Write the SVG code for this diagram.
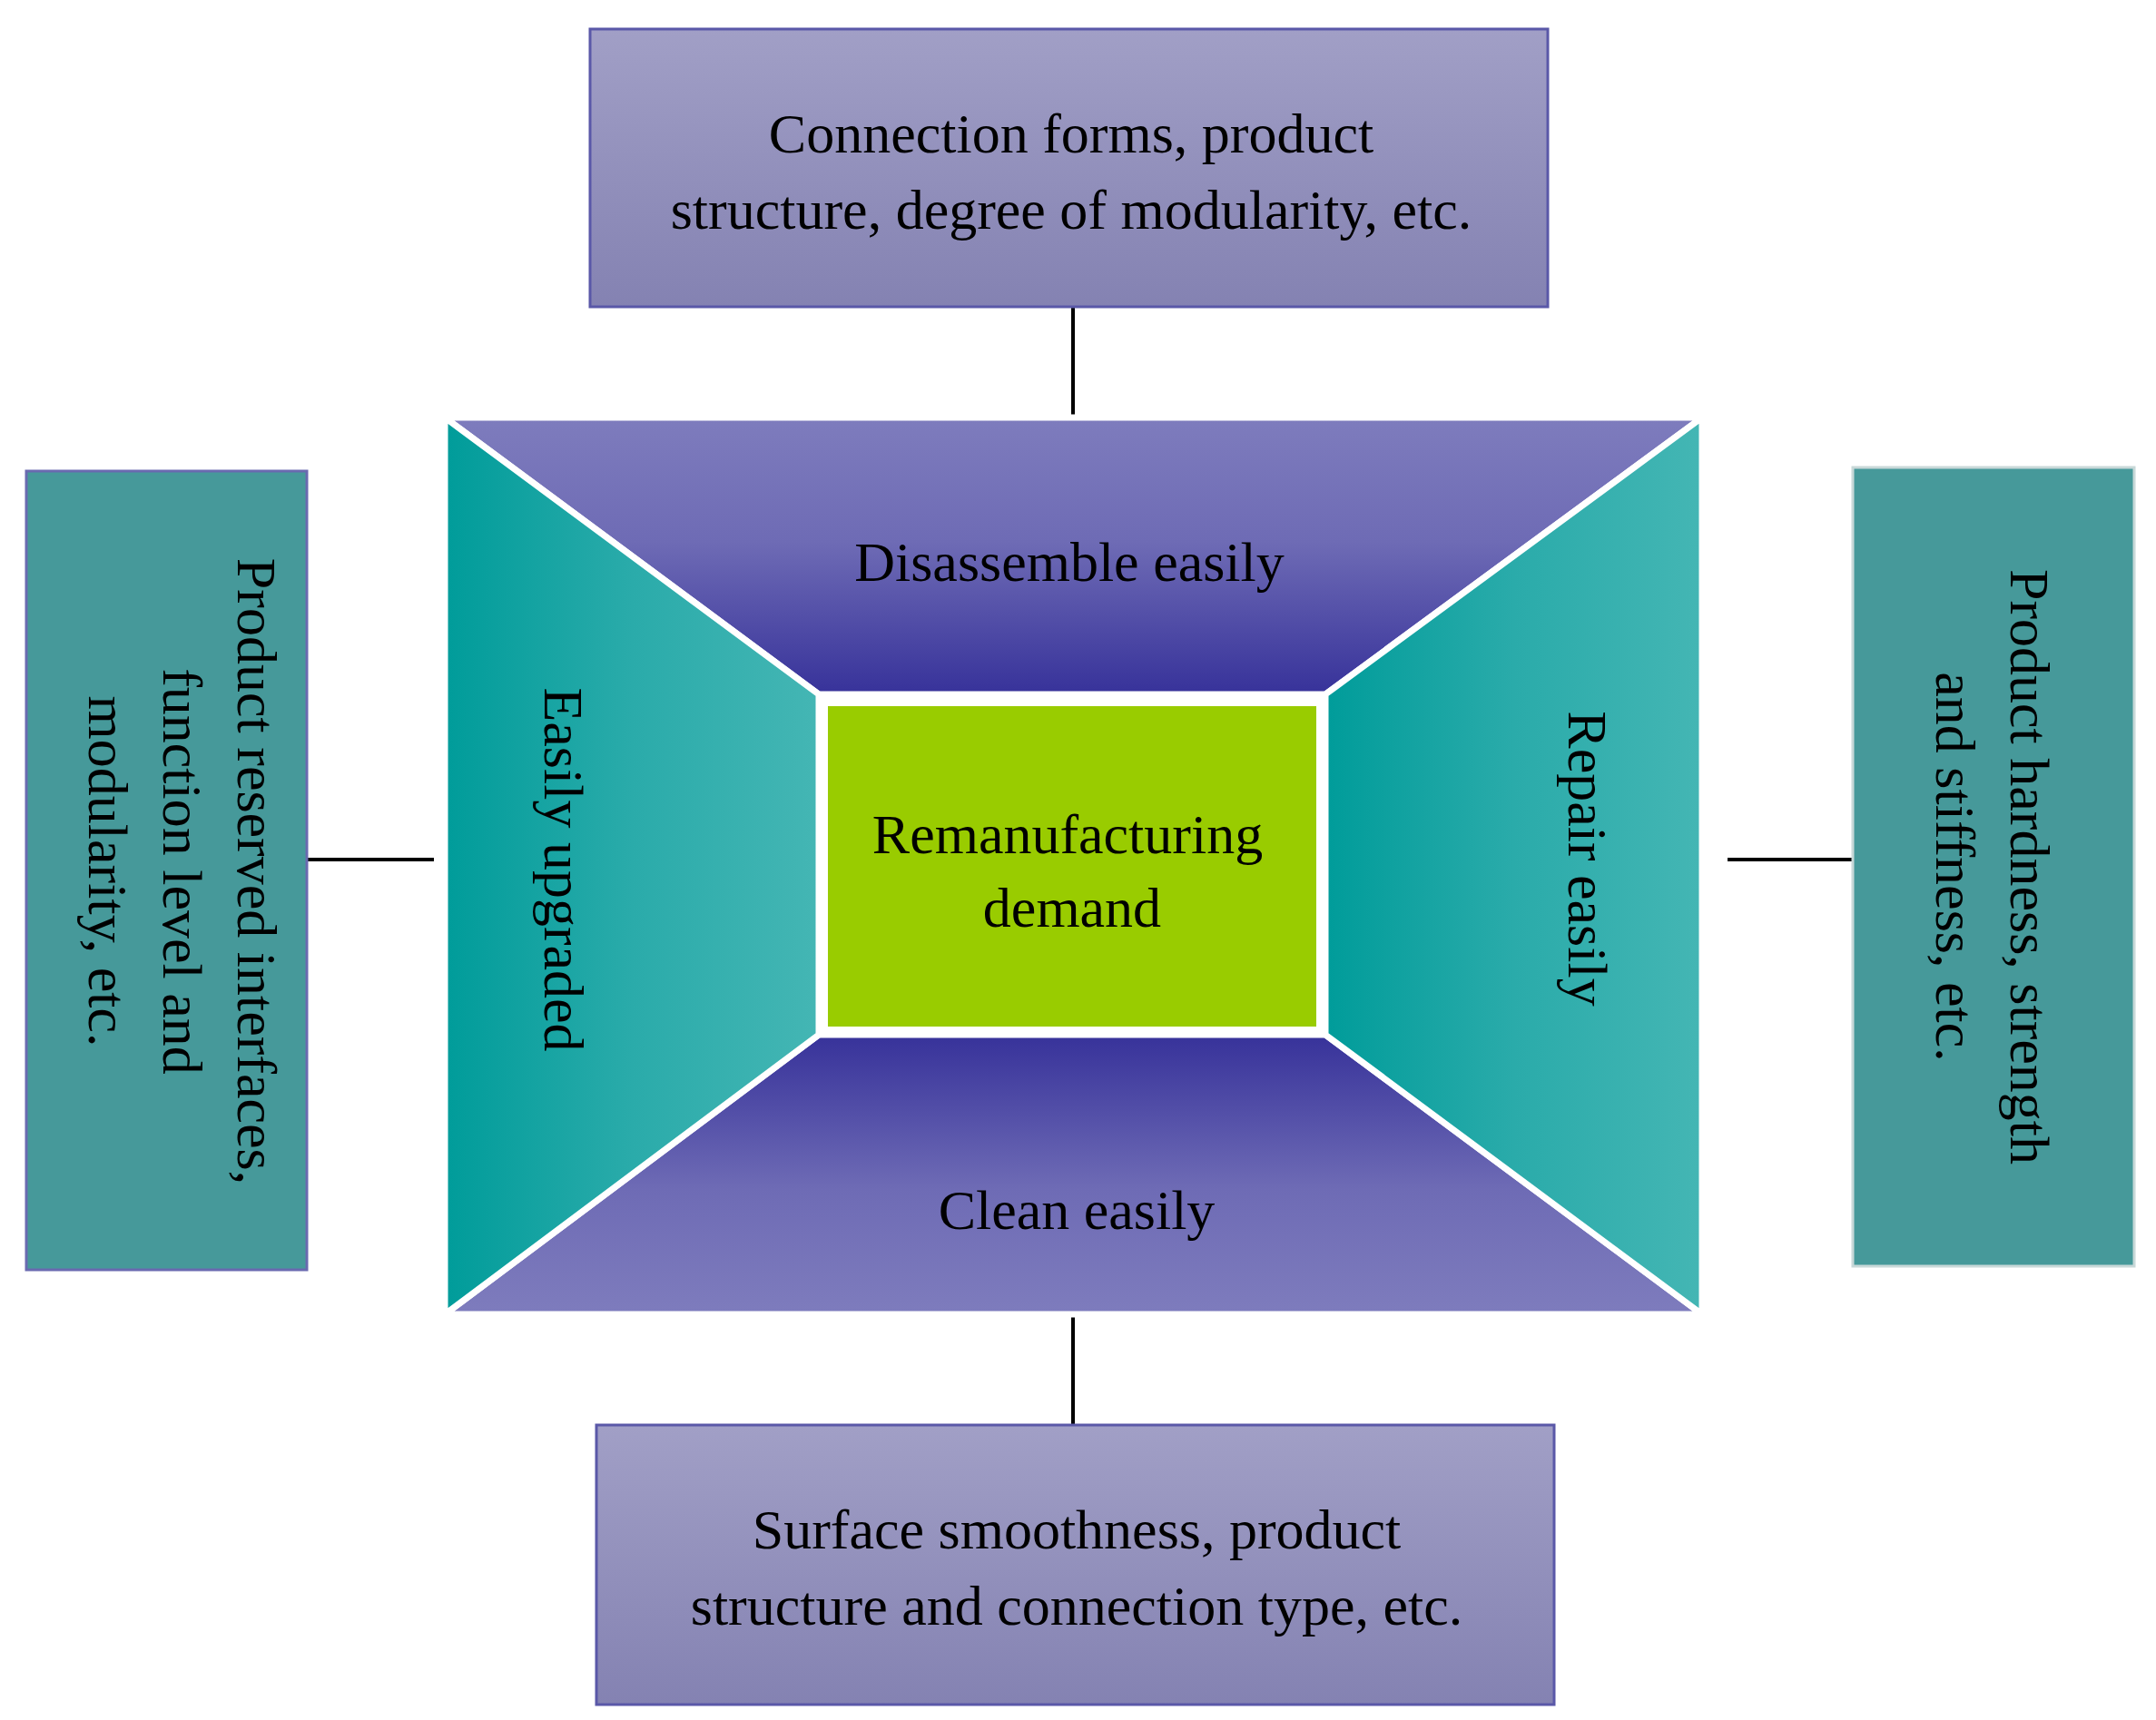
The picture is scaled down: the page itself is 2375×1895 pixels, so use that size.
<svg xmlns="http://www.w3.org/2000/svg" width="2375" height="1895" viewBox="0 0 2375 1895">
<style>
text{font-family:"Liberation Serif","Times New Roman",serif;font-size:62px;fill:#000;text-anchor:middle}
.pbox{fill:url(#gBox);stroke:#5a58a8;stroke-width:3}
.tbox{fill:#46999a;stroke:#6a6ab0;stroke-width:3}
.trap{stroke:#fff;stroke-width:7;stroke-linejoin:miter}
.conn{stroke:#000;stroke-width:4;fill:none}
</style>
<defs>
<linearGradient id="gBox" x1="0" y1="0" x2="0" y2="1"><stop offset="0" stop-color="#a19fc6"/><stop offset="1" stop-color="#8482b2"/></linearGradient>
<linearGradient id="gTop" x1="0" y1="0" x2="0" y2="1"><stop offset="0" stop-color="#7e7cbd"/><stop offset="0.45" stop-color="#6e6bb5"/><stop offset="1" stop-color="#37329a"/></linearGradient>
<linearGradient id="gBot" x1="0" y1="1" x2="0" y2="0"><stop offset="0" stop-color="#7e7cbd"/><stop offset="0.45" stop-color="#6e6bb5"/><stop offset="1" stop-color="#37329a"/></linearGradient>
<linearGradient id="gSide" x1="0" y1="0" x2="1" y2="0"><stop offset="0" stop-color="#009c9a"/><stop offset="0.5" stop-color="#2aabaa"/><stop offset="1" stop-color="#44b6b4"/></linearGradient>
</defs>
<g id="connectors">
<line class="conn" x1="1182" y1="338" x2="1182" y2="462"/>
<line class="conn" x1="1182" y1="1446" x2="1182" y2="1569"/>
<line class="conn" x1="338" y1="947" x2="478" y2="947"/>
<line class="conn" x1="1903" y1="947" x2="2041" y2="947"/>
</g>
<g id="top-box">
<rect class="pbox" x="650" y="32" width="1055" height="306"/>
<text x="1180" y="168">Connection forms, product</text>
<text x="1180" y="252">structure, degree of modularity, etc.</text>
</g>
<g id="bottom-box">
<rect class="pbox" x="657" y="1570" width="1055" height="308"/>
<text x="1186" y="1706">Surface smoothness, product</text>
<text x="1186" y="1790">structure and connection type, etc.</text>
</g>
<g id="left-box">
<rect class="tbox" x="29" y="519" width="309" height="880"/>
<text transform="translate(262,960) rotate(90)">Product reserved interfaces,</text>
<text transform="translate(180,960) rotate(90)">function level and</text>
<text transform="translate(98,960) rotate(90)">modularity, etc.</text>
</g>
<g id="right-box">
<rect class="tbox" x="2041" y="515" width="310" height="880" style="stroke:#c8d8d8"/>
<text transform="translate(2215,955) rotate(90)">Product hardness, strength</text>
<text transform="translate(2133,955) rotate(90)">and stiffness, etc.</text>
</g>
<g id="disassemble">
<polygon class="trap" fill="url(#gTop)" points="490,460 1875,460 1460,765 902,765"/>
<text x="1178" y="640">Disassemble easily</text>
</g>
<g id="clean">
<polygon class="trap" fill="url(#gBot)" points="490,1448 1875,1448 1460,1140 902,1140"/>
<text x="1186" y="1354">Clean easily</text>
</g>
<g id="upgraded">
<polygon class="trap" fill="url(#gSide)" points="490,460 902,765 902,1140 490,1448"/>
<text transform="translate(600,958) rotate(90)">Easily upgraded</text>
</g>
<g id="repair">
<polygon class="trap" fill="url(#gSide)" points="1875,460 1460,765 1460,1140 1875,1448"/>
<text transform="translate(1728,946) rotate(90)">Repair easily</text>
</g>
<g id="center">
<rect x="912" y="778" width="538" height="353" fill="#99cc00"/>
<text x="1176" y="940">Remanufacturing</text>
<text x="1181" y="1021">demand</text>
</g>
</svg>
